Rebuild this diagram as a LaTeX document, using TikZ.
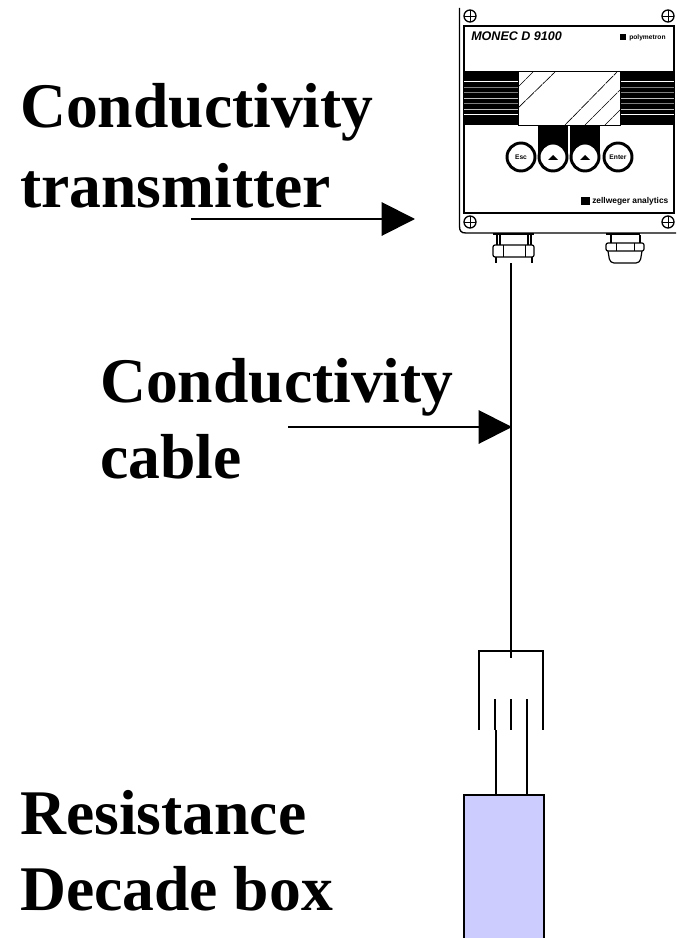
\documentclass[tikz,border=0pt]{standalone}
\usepackage{fontspec}
\setmainfont{Liberation Serif}
\setsansfont{Liberation Sans}
\usepackage{tikz}
\usetikzlibrary{arrows.meta}

\tikzset{
  biglabel/.style={anchor=base west,inner sep=0pt,font=\fontsize{47.7}{54}\selectfont\bfseries},
  bigarrow/.style={line width=1.5pt,-{Triangle[length=25pt,width=25pt]}},
  wire/.style={line width=1.4pt},
  screw/.style={draw,circle,line width=1pt,minimum size=9pt,inner sep=0pt,path picture={\draw[line width=0.7pt] (path picture bounding box.west) -- (path picture bounding box.east) (path picture bounding box.north) -- (path picture bounding box.south);}},
  keyround/.style={draw,circle,fill=white,line width=2.2pt,minimum size=21pt,inner sep=0pt,font=\sffamily\bfseries\fontsize{5}{6}\selectfont},
  panelnote/.style={inner sep=0pt,anchor=base west,font=\sffamily\bfseries\fontsize{5}{6}\selectfont},
}

\begin{document}
\begin{tikzpicture}[x=0.75pt,y=0.75pt,yscale=-1,xscale=1]
\useasboundingbox (0,0) rectangle (676,938);

% Transmitter housing
\draw [line width=1pt] (459.5,8) -- (459.5,226) .. controls (459.5,231) and (461,233) .. (466,233) -- (676,233);
\draw [line width=1.6pt] (464,26) rectangle (674,213);

% Stripes either side of the display
\fill (464,71) rectangle (518,125);
\fill (620,71) rectangle (674,125);
\foreach \y/\c in {81/white,87/gray,92/gray,98/lightgray,103/gray,109/lightgray,114/white}
  {\draw [\c,line width=0.6pt] (464,\y) -- (518,\y) (620,\y) -- (674,\y);}

% Display
\draw [line width=0.7pt,fill=white] (518,71) rectangle (620,125);
\foreach \a/\b/\c/\d in {518/87/533/72,518/108/555/72,565/125/617/72,585/125/620/90,605/125/620/110}
  {\draw [line width=0.5pt,dash pattern=on 8pt off 0.7pt] (\a,\b) -- (\c,\d);}

% Keys
\fill (538,125) rectangle (568,157);
\fill (570,125) rectangle (600,157);
\node [keyround] (esc) at (521,157) {Esc};
\node [keyround] (up1) at (553,157) {};
\node [keyround] (up2) at (585,157) {};
\node [keyround] (enter) at (618,157) {Enter};
\fill (548,160) -- (553,155) -- (558,160) -- cycle;
\fill (580,160) -- (585,155) -- (590,160) -- cycle;

% Screws
\node [screw] (s1) at (470,16) {};
\node [screw] (s2) at (668,16) {};
\node [screw] (s3) at (470,222) {};
\node [screw] (s4) at (668,222) {};

% Panel lettering
\node [panelnote,font=\sffamily\bfseries\itshape\fontsize{9.4}{10}\selectfont] (brand) at (471,41) {MONEC D 9100};
\fill (620,34) rectangle (626,40);
\node [panelnote,font=\sffamily\bfseries\fontsize{5}{6}\selectfont] (poly) at (629,39.5) {polymetron};
\fill (581,197) rectangle (590,205);
\node [panelnote,font=\sffamily\bfseries\fontsize{6.3}{7}\selectfont] (zell) at (592,204) {zellweger analytics};

% Left gland
\draw [line width=1pt] (493,234) -- (534,234);
\draw [line width=0.9pt] (497,235) -- (497,245) (500,235) -- (500,245) (528,235) -- (528,245) (531,235) -- (531,245);
\draw [line width=0.9pt,fill=white,rounded corners=1.5pt] (493,245) rectangle (534,257);
\draw [line width=0.7pt] (503,245) -- (503,257) (525,245) -- (525,257);
\draw [line width=0.9pt] (496,257) -- (496,263) (532,257) -- (532,263);
% Right gland
\draw [line width=1pt] (606,234) -- (640,234);
\draw [line width=0.9pt] (611,235) -- (611,243) (640,235) -- (640,243);
\draw [line width=0.9pt,fill=white,rounded corners=1.5pt] (606,243) rectangle (644,251);
\draw [line width=0.7pt] (616,243) -- (616,251) (634,243) -- (634,251);
\draw [line width=0.9pt,rounded corners=3pt] (608,251) -- (610,263) -- (640,263) -- (642,251);

% Plug
\coordinate (glandout) at (511,263);
\coordinate (plugtop) at (511,658);
\draw [wire] (479,730) -- (479,651) -- (543,651) -- (543,730);
\foreach \x in {495,511,527} {\draw [wire] (\x,699) -- (\x,730);}
\draw [line width=1pt] (glandout) -- (plugtop);

% Decade box
\node [draw,line width=1.6pt,fill={rgb,255:red,204;green,204;blue,255},minimum width=60.4pt,minimum height=120pt,inner sep=0pt,anchor=north west] (decade) at (462.5,794) {};
\coordinate (pinl) at (496,730);
\coordinate (pinr) at (527,730);
\draw [wire] (pinl) -- (decade.north -| pinl);
\draw [wire] (pinr) -- (decade.north -| pinr);

% Labels
\node [biglabel] (condtx) at (20,128) {Conductivity};
\node [biglabel] (tx) at (20,207) {transmitter};
\node [biglabel] (condcb) at (100,402) {Conductivity};
\node [biglabel] (cb) at (100,478) {cable};
\node [biglabel] (res) at (20,834) {Resistance};
\node [biglabel] (dec) at (20,910) {Decade box};

% Arrows
\coordinate (txtail) at (191,219);
\coordinate (txhead) at (415,219);
\coordinate (cbtail) at (288,427);
\coordinate (cbhead) at (512,427);
\draw [bigarrow] (txtail) -- (txhead);
\draw [bigarrow] (cbtail) -- (cbhead);

\end{tikzpicture}
\end{document}
